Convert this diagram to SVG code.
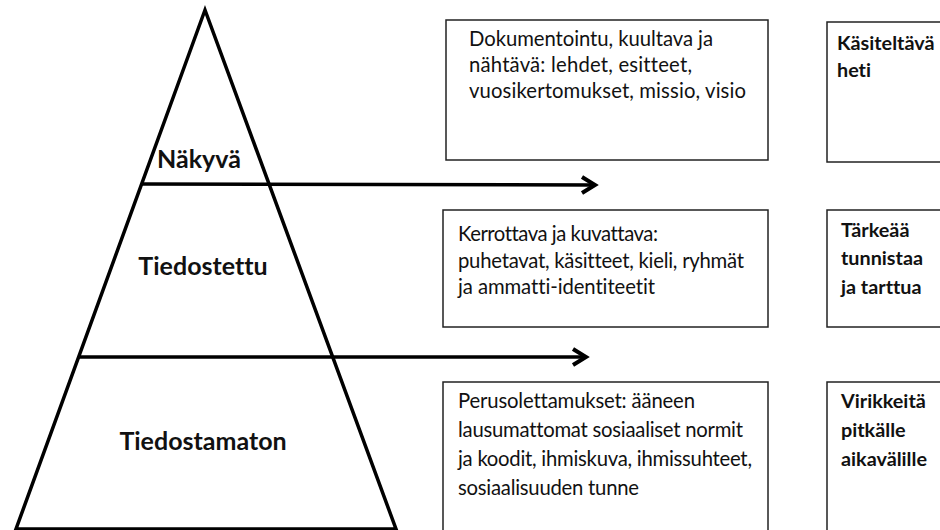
<svg xmlns="http://www.w3.org/2000/svg" width="940" height="530" viewBox="0 0 940 530">
<defs>
<style>
.t{font-family:Lato,"Open Sans","Liberation Sans",sans-serif;font-size:20.3px;fill:#111;font-variant-ligatures:none}
.b{font-family:Lato,"Open Sans","Liberation Sans",sans-serif;font-size:19.8px;font-weight:bold;fill:#111;font-variant-ligatures:none}
.L{font-family:Lato,"Open Sans","Liberation Sans",sans-serif;font-size:25px;font-weight:bold;fill:#111;text-anchor:middle;font-variant-ligatures:none}
.box{fill:#fff;stroke:#222;stroke-width:1.5}
.edge{fill:none;stroke:#000;stroke-width:3.5}
.head{fill:none;stroke:#000;stroke-width:4}
</style>
</defs>
<rect width="940" height="530" fill="#fff"/>
<g id="pyramid">
<polygon points="205,10 16,529 396,529" fill="none" stroke="#000" stroke-width="3.5" stroke-linejoin="miter"/>
<text class="L" x="199" y="168">Näkyvä</text>
<text class="L" x="203" y="275">Tiedostettu</text>
<text class="L" x="203" y="450">Tiedostamaton</text>
</g>
<g id="connectors">
<line class="edge" x1="142" y1="184" x2="595" y2="185"/>
<path class="head" d="M582,177 L595,185 L582,193"/>
<line class="edge" x1="78" y1="357" x2="586" y2="357"/>
<path class="head" d="M573,349 L586,357 L573,365"/>
</g>
<g id="box-visible">
<rect class="box" x="446" y="20" width="322" height="140"/>
<text class="t" x="469" y="46" textLength="244" lengthAdjust="spacing">Dokumentointu, kuultava ja</text>
<text class="t" x="469" y="72" textLength="223" lengthAdjust="spacing">nähtävä: lehdet, esitteet,</text>
<text class="t" x="469" y="98" textLength="277" lengthAdjust="spacing">vuosikertomukset, missio, visio</text>
</g>
<g id="box-conscious">
<rect class="box" x="443" y="210" width="325" height="117"/>
<text class="t" x="458" y="241" textLength="200" lengthAdjust="spacing">Kerrottava ja kuvattava:</text>
<text class="t" x="458" y="268" textLength="286" lengthAdjust="spacing">puhetavat, käsitteet, kieli, ryhmät</text>
<text class="t" x="458" y="294" textLength="197" lengthAdjust="spacing">ja ammatti-identiteetit</text>
</g>
<g id="box-unconscious">
<rect class="box" x="443" y="382" width="325" height="160"/>
<text class="t" x="458" y="408" textLength="237" lengthAdjust="spacing">Perusolettamukset: ääneen</text>
<text class="t" x="458" y="437" textLength="285" lengthAdjust="spacing">lausumattomat sosiaaliset normit</text>
<text class="t" x="458" y="466" textLength="294" lengthAdjust="spacing">ja koodit, ihmiskuva, ihmissuhteet,</text>
<text class="t" x="458" y="495" textLength="181" lengthAdjust="spacing">sosiaalisuuden tunne</text>
</g>
<g id="note-1">
<rect class="box" x="827" y="22" width="130" height="140"/>
<text class="b" x="837" y="50">Käsiteltävä</text>
<text class="b" x="837" y="77">heti</text>
</g>
<g id="note-2">
<rect class="box" x="827" y="210" width="130" height="117"/>
<text class="b" x="841" y="237">Tärkeää</text>
<text class="b" x="841" y="265">tunnistaa</text>
<text class="b" x="841" y="294">ja tarttua</text>
</g>
<g id="note-3">
<rect class="box" x="827" y="382" width="130" height="160"/>
<text class="b" x="841" y="408">Virikkeitä</text>
<text class="b" x="841" y="437">pitkälle</text>
<text class="b" x="841" y="466">aikavälille</text>
</g>
</svg>
